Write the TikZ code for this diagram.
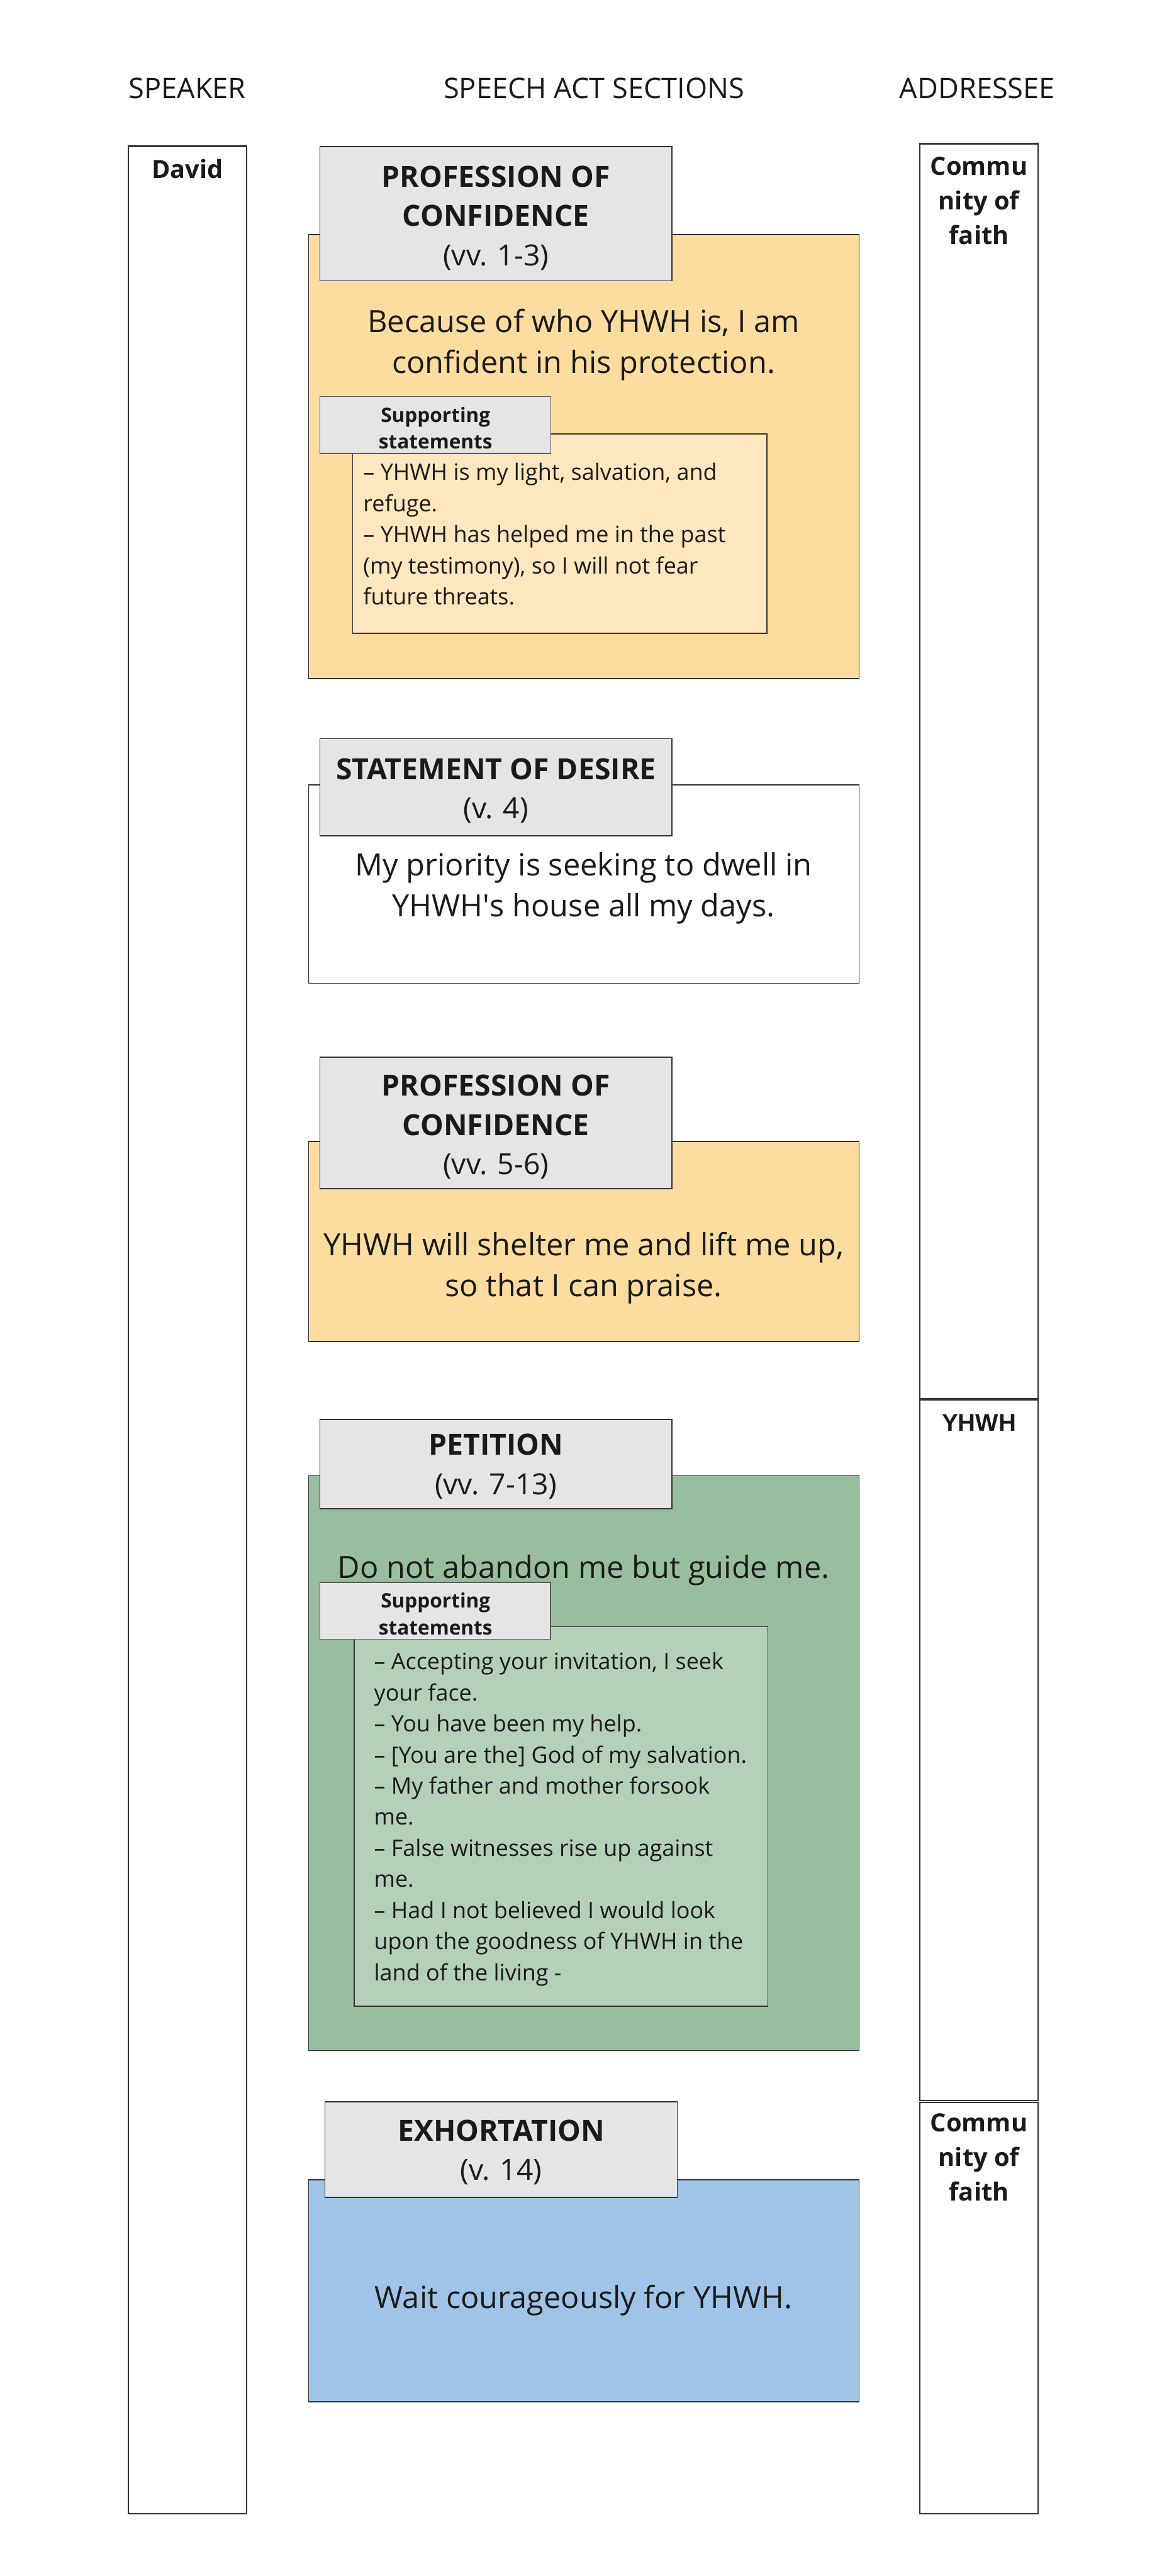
\documentclass[tikz,border=0pt]{standalone}
\usepackage{fontspec}
\setmainfont{Open Sans}
\newfontfamily\lsans{Liberation Sans}
\definecolor{frame}{HTML}{333333}
\definecolor{ink}{HTML}{1A1A1A}
\definecolor{orng}{HTML}{FDDCA0}
\definecolor{orngl}{HTML}{FEE6BE}
\definecolor{grn}{HTML}{99BE9D}
\definecolor{grnl}{HTML}{B4D0B9}
\definecolor{blu}{HTML}{A0C4E8}
\definecolor{gry}{HTML}{E5E5E5}
\tikzset{
  col/.style={draw=frame, line width=0.9pt, fill=white},
  outerbox/.style={draw=frame, line width=0.7pt},
  titlebox/.style={draw=frame, line width=0.7pt, fill=gry},
  supbox/.style={draw=frame!80, line width=0.6pt, fill=gry},
  hdr/.style={inner sep=0pt, text=ink, font=\fontsize{18.7}{22}\selectfont},
  ttl/.style={inner sep=0pt, text=ink, align=center, font=\fontsize{19.2}{25.9}\selectfont},
  maintxt/.style={inner sep=0pt, text=ink, align=center, font=\fontsize{20.2}{27}\selectfont},
  suplbl/.style={inner sep=0pt, text=ink, align=center, font=\fontsize{13.1}{17.6}\selectfont\bfseries},
  listtxt/.style={inner sep=0pt, text=ink, align=left, anchor=west, font=\fontsize{14.9}{20.5}\selectfont},
  colname/.style={inner sep=0pt, text=ink, align=center, font=\fontsize{16.5}{22.8}\selectfont\bfseries},
}
\begin{document}
\begin{tikzpicture}[x=1cm,y=-1cm]
\useasboundingbox[fill=white] (0,0) rectangle (26.79,59.70);

% headers
\node[hdr] (hspeaker) at (4.34,2.05) {SPEAKER};
\node[hdr] (hsections) at (13.76,2.05) {SPEECH ACT SECTIONS};
\node[hdr] (haddressee) at (22.64,2.05) {ADDRESSEE};

% columns
\draw[col] (2.97,3.39) rectangle (5.71,58.26);
\draw[col] (21.31,3.33) rectangle (24.05,32.41);
\draw[col] (21.31,32.45) rectangle (24.05,48.68);
\draw[col] (21.31,48.72) rectangle (24.05,58.26);
\node[colname] (david) at (4.34,3.91) {David};
\node[colname] (comm1) at (22.68,4.66) {Commu\\nity of\\faith};
\node[inner sep=0pt, text=ink, font=\lsans\fontsize{16}{20}\selectfont\bfseries] (yhwh) at (22.68,32.97) {YHWH};
\node[colname] (comm2) at (22.68,50.00) {Commu\\nity of\\faith};

% box 1
\draw[outerbox, fill=orng] (7.15,5.44) rectangle (19.90,15.73);
\draw[titlebox] (7.41,3.40) rectangle (15.57,6.51);
\node[ttl] (t1) at (11.49,5.05) {\textbf{PROFESSION OF}\\\textbf{CONFIDENCE}\\(vv. 1-3)};
\node[maintxt] (m1) at (13.52,7.99) {Because of who YHWH is, I am\\confident in his protection.};
\draw[outerbox, fill=orngl] (8.17,10.06) rectangle (17.77,14.68);
\draw[supbox] (7.41,9.19) rectangle (12.76,10.51);
\node[suplbl] (s1) at (10.09,9.92) {Supporting\\statements};
\node[listtxt] (l1) at (8.41,12.38) {– YHWH is my light, salvation, and\\refuge.\\– YHWH has helped me in the past\\(my testimony), so I will not fear\\future threats.};

% box 2
\draw[outerbox, fill=white] (7.15,18.19) rectangle (19.90,22.79);
\draw[titlebox] (7.41,17.12) rectangle (15.57,19.37);
\node[ttl] (t2) at (11.49,18.33) {\textbf{STATEMENT OF DESIRE}\\(v. 4)};
\node[maintxt] (m2) at (13.52,20.59) {My priority is seeking to dwell in\\YHWH\textquotesingle s house all my days.};

% box 3
\draw[outerbox, fill=orng] (7.15,26.45) rectangle (19.90,31.09);
\draw[titlebox] (7.41,24.50) rectangle (15.57,27.55);
\node[ttl] (t3) at (11.49,26.12) {\textbf{PROFESSION OF}\\\textbf{CONFIDENCE}\\(vv. 5-6)};
\node[maintxt] (m3) at (13.52,29.39) {YHWH will shelter me and lift me up,\\so that I can praise.};

% box 4
\draw[outerbox, fill=grn] (7.15,34.20) rectangle (19.90,47.52);
\draw[titlebox] (7.41,32.90) rectangle (15.57,34.97);
\node[ttl] (t4) at (11.49,33.99) {\textbf{PETITION}\\(vv. 7-13)};
\node[maintxt] (m4) at (13.52,36.39) {Do not abandon me but guide me.};
\draw[outerbox, fill=grnl] (8.21,37.70) rectangle (17.79,46.49);
\draw[supbox] (7.41,36.67) rectangle (12.75,37.99);
\node[suplbl] (s4) at (10.09,37.40) {Supporting\\statements};
\node[listtxt] (l4) at (8.66,42.16) {– Accepting your invitation, I seek\\your face.\\– You have been my help.\\– [You are the] God of my salvation.\\– My father and mother forsook\\me.\\– False witnesses rise up against\\me.\\– Had I not believed I would look\\upon the goodness of YHWH in the\\land of the living -};

% box 5
\draw[outerbox, fill=blu] (7.15,50.52) rectangle (19.90,55.66);
\draw[titlebox] (7.53,48.71) rectangle (15.69,50.93);
\node[ttl] (t5) at (11.61,49.88) {\textbf{EXHORTATION}\\(v. 14)};
\node[maintxt] (m5) at (13.52,53.31) {Wait courageously for YHWH.};
\end{tikzpicture}
\end{document}
